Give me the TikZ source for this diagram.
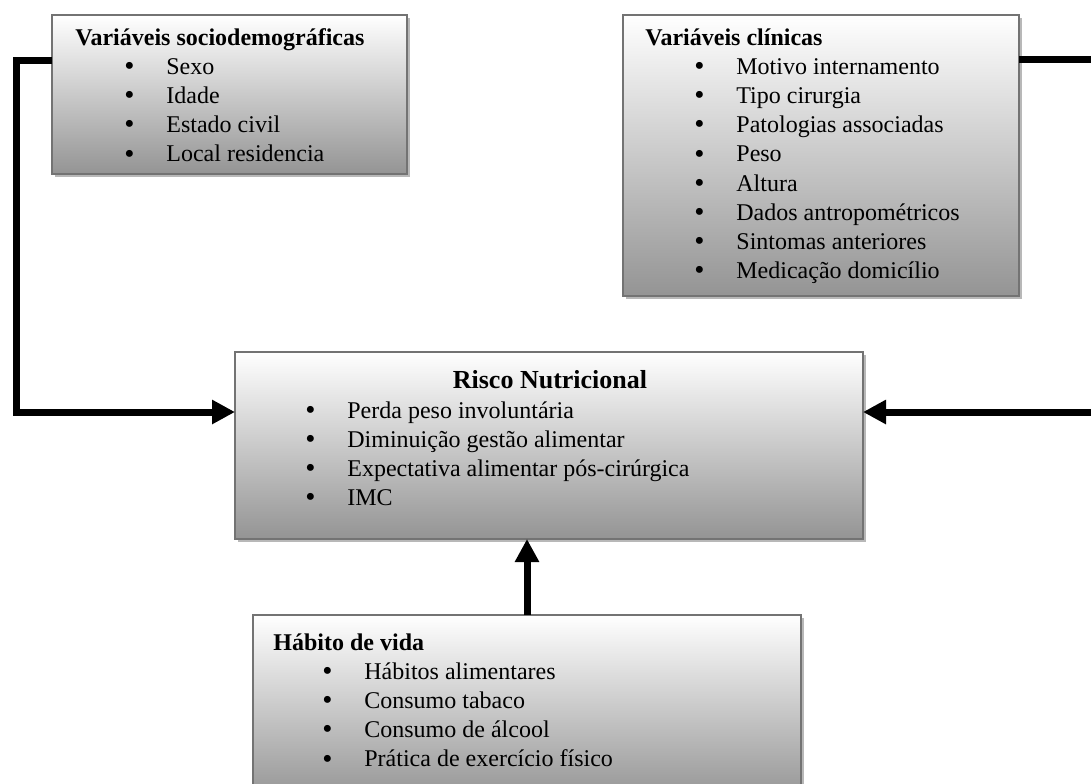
\documentclass[tikz,border=0pt]{standalone}
\usepackage{fontspec}
\setmainfont{Liberation Serif}
\usetikzlibrary{arrows.meta,positioning,shadows}
\newcommand{\itm}[1]{\hspace*{24.5pt}\makebox[21pt][l]{\raisebox{-0.6pt}{\fontsize{14.5}{14.5}\selectfont\textbullet}}#1}

\begin{document}
\begin{tikzpicture}[x=0.5pt,y=-0.5pt,font=\fontsize{12}{14.6}\selectfont,
  box/.style={draw=black!55,line width=1pt,top color=white,bottom color=black!42,anchor=north west,
    outer sep=0pt,inner sep=0pt,drop shadow={shadow xshift=1.3pt,shadow yshift=-1.3pt,fill=black!28,opacity=1}},
  lst/.style={anchor=base west,inner sep=0pt},
  ttl/.style={anchor=base,inner sep=0pt,font=\fontsize{13}{15}\selectfont\bfseries},
  conn/.style={line width=3.5pt,-{Triangle[length=11.5pt,width=11.5pt]}}]
  \useasboundingbox (0,0) rectangle (1091,783);
  \node[box,minimum width=177.5pt,minimum height=79.5pt] (socio) at (52,15) {};
  \node[lst] (sociolst) at ([shift={(23,30)}]socio.north west) {\begin{tabular}[t]{@{}l@{}}
    \textbf{Variáveis sociodemográficas}\\ \itm{Sexo}\\ \itm{Idade}\\ \itm{Estado civil}\\ \itm{Local residencia}\end{tabular}};
  \node[box,minimum width=198pt,minimum height=140.5pt] (clinic) at (623,15) {};
  \node[lst] (cliniclst) at ([shift={(22,30)}]clinic.north west) {\begin{tabular}[t]{@{}l@{}}
    \textbf{Variáveis clínicas}\\ \itm{Motivo internamento}\\ \itm{Tipo cirurgia}\\ \itm{Patologias associadas}\\
    \itm{Peso}\\ \itm{Altura}\\ \itm{Dados antropométricos}\\ \itm{Sintomas anteriores}\\ \itm{Medicação domicílio}\end{tabular}};
  \node[box,minimum width=314pt,minimum height=93.5pt] (risco) at (235,352) {};
  \node[ttl] (riscottl) at ([shift={(1,36)}]risco.north) {Risco Nutricional};
  \node[lst] (riscolst) at ([shift={(21,66)}]risco.north west) {\begin{tabular}[t]{@{}l@{}}
    \itm{Perda peso involuntária}\\ \itm{Diminuição gestão alimentar}\\ \itm{Expectativa alimentar pós-cirúrgica}\\ \itm{IMC}\end{tabular}};
  \node[box,minimum width=274pt,minimum height=92.5pt] (habito) at (253,615) {};
  \node[lst] (habitolst) at ([shift={(20,35)}]habito.north west) {\begin{tabular}[t]{@{}l@{}}
    \textbf{Hábito de vida}\\ \itm{Hábitos alimentares}\\ \itm{Consumo tabaco}\\ \itm{Consumo de álcool}\\ \itm{Prática de exercício físico}\end{tabular}};
  % connectors
  \coordinate (ltop) at (16,60);
  \coordinate (lbot) at (16,412);
  \coordinate (rtop) at (1100,59);
  \coordinate (rbot) at (1100,412);
  \draw[conn] (socio.west|-ltop) -- (ltop) -- (lbot) -- (risco.west|-lbot);
  \draw[conn] (clinic.east|-rtop) -- (rtop) -- (rbot) -- (risco.east|-rbot);
  \draw[conn] (habito.north) -- (habito.north|-risco.south);
\end{tikzpicture}
\end{document}
